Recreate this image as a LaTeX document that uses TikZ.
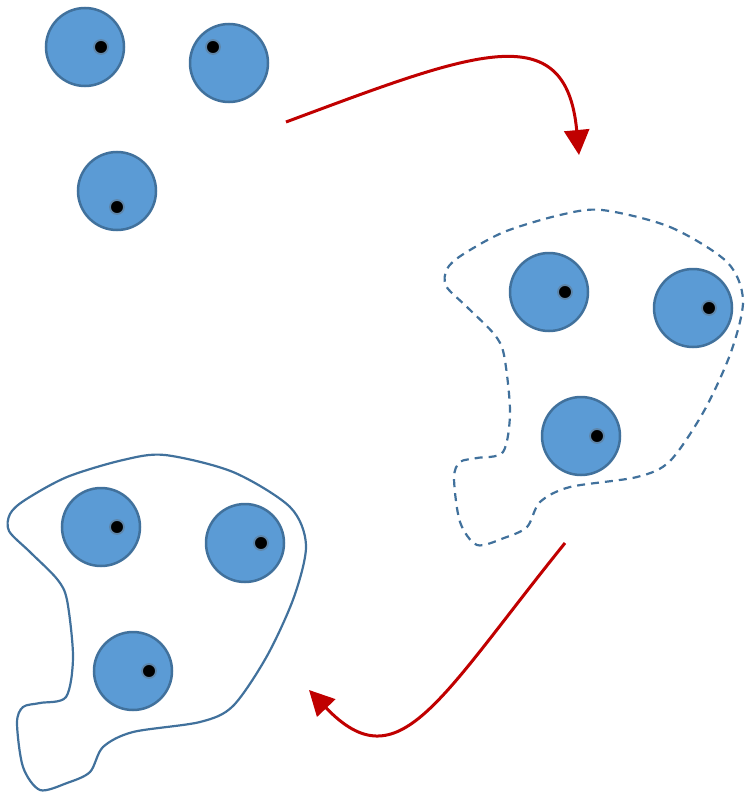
\documentclass[tikz,border=0pt]{standalone}
\usepackage{xcolor}
\usepackage{tikz}
\usetikzlibrary{arrows.meta}
\definecolor{ballfill}{RGB}{91,155,213}
\definecolor{ballline}{RGB}{65,113,156}
\definecolor{arrowred}{RGB}{192,0,0}
\tikzset{
  ball/.style={circle, fill=ballfill, draw=ballline, line width=2.5pt,
    minimum size=78pt, inner sep=0pt},
  dot/.style={circle, fill=black, draw=ballline!85, line width=1.8pt,
    minimum size=14pt, inner sep=0pt},
  movearrow/.style={-{Triangle[length=25pt, width=25pt]}, line width=3pt,
    color=arrowred},
  blobline/.style={draw=ballline, line width=2.2pt},
  blobdash/.style={blobline, dash pattern=on 8pt off 6pt},
  pics/blob/.style={code={
    \draw[#1] plot[smooth cycle, tension=0.5] coordinates {
      (165,455) (233,472) (290,507) (306,545) (294,597) (267,656)
      (233,706) (200,722) (133,732) (103,747) (90,772) (67,783)
      (40,790) (23,767) (17,723) (23,707) (40,703) (66,697)
      (73,657) (67,600) (57,579) (30,552) (9,531) (10,514)
      (25,500) (67,477) (123,460)};
  }},
}

\begin{document}
\begin{tikzpicture}[x=1pt, y=-1pt]

  \useasboundingbox (0,0) rectangle (744,792);

  %% Loose balls
  \node[ball] (a1) at (85,47) {};
  \node[ball] (a2) at (229,63) {};
  \node[ball] (a3) at (117,191) {};
  \node[dot] (a1d) at (101,47) {};
  \node[dot] (a2d) at (213,47) {};
  \node[dot] (a3d) at (117,207) {};

  %% Gathered balls (dashed outline)
  \pic at (437,-245) {blob=blobdash};
  \node[ball] (b1) at (549,292) {};
  \node[ball] (b2) at (693,308) {};
  \node[ball] (b3) at (581,436) {};
  \node[dot] (b1d) at (565,292) {};
  \node[dot] (b2d) at (709,308) {};
  \node[dot] (b3d) at (597,436) {};

  %% Enclosed balls (solid outline)
  \pic at (0,0) {blob=blobline};
  \node[ball] (c1) at (101,527) {};
  \node[ball] (c2) at (245,543) {};
  \node[ball] (c3) at (133,671) {};
  \node[dot] (c1d) at (117,527) {};
  \node[dot] (c2d) at (261,543) {};
  \node[dot] (c3d) at (149,671) {};

  %% Arrows
  \coordinate (m1s) at (286,122);
  \coordinate (m1e) at (579,155);
  \coordinate (m2s) at (565,543);
  \coordinate (m2e) at (309,690);
  \draw[movearrow] (m1s) .. controls (474,52) and (566,15) .. (m1e);
  \draw[movearrow] (m2s) .. controls (439,699) and (399,784) .. (m2e);

\end{tikzpicture}
\end{document}
